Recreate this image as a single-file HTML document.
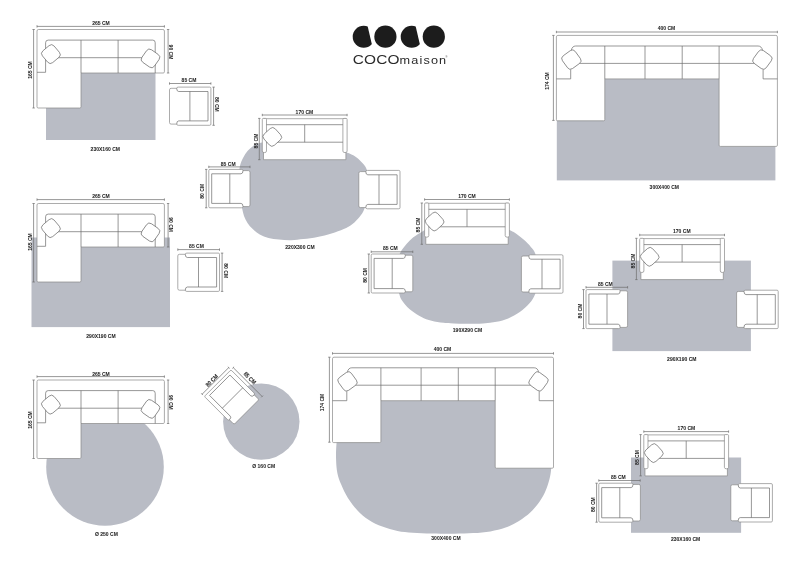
<!DOCTYPE html>
<html><head><meta charset="utf-8"><title>COCO maison</title>
<style>
html,body{margin:0;padding:0;background:#fff;}
svg{display:block;will-change:transform;filter:blur(0.45px)}
text{font-family:"Liberation Sans",sans-serif;}
</style></head>
<body>
<svg width="800" height="576" viewBox="0 0 800 576">
<rect width="800" height="576" fill="#fff"/>
<g stroke="#6c6c6c" stroke-width="0.7" stroke-linejoin="round" stroke-linecap="butt">
<rect x="46" y="72.5" width="109.5" height="67.5" fill="#b9bcc5" stroke="none"/>
<g transform="translate(37,29.5)"><path d="M1.5,0 H125.9 Q127.4,0 127.4,1.5 V42.3 Q127.4,43.5 126.2,43.5 H44 V77.3 Q44,78.5 42.8,78.5 H1.2 Q0,78.5 0,77.3 V1.5 Q0,0 1.5,0 Z" fill="#fff" stroke="#888"/><path d="M0,42.8 H8.6 V13.2 Q8.6,10.6 11.2,10.6 H115.80000000000001 Q118.2,10.6 118.2,13.2 V43.5" fill="none"/><path d="M44,10.6 V43.5 M81.1,10.6 V43.5 M20,28.2 H106" fill="none"/><rect x="-7.65" y="-7.65" width="15.3" height="15.3" rx="3.6" transform="translate(13.9,24.6) rotate(-40)" fill="#fff"/><rect x="-7.65" y="-7.65" width="15.3" height="15.3" rx="3.6" transform="translate(113.5,28.9) rotate(35)" fill="#fff"/></g>
<path d="M37,26.4 H164.4 M37,25.2 v2.4 M164.4,25.2 v2.4" fill="none"/>
<path d="M33.6,29.5 V108 M32.4,29.5 h2.4 M32.4,108 h2.4" fill="none"/>
<path d="M168.1,29.5 V73 M166.9,29.5 h2.4 M166.9,73 h2.4" fill="none"/>
<g transform="translate(210.9,87.1) scale(-1,1)"><path d="M0,1.2 Q0,0 1.2,0 H32.6 Q34.2,0 34.2,1.2 H39.8 Q41.4,1.2 41.4,2.8 V35.4 Q41.4,37.0 39.8,37.0 H34.2 Q34.2,38.2 32.6,38.2 H1.2 Q0,38.2 0,37.0 Z" fill="#fff" stroke="#888"/><path d="M34.2,1.2 Q34.2,4.4 32.2,4.4 H2.9 V33.800000000000004 H32.2 Q34.2,33.800000000000004 34.2,37.0 M21,4.4 V33.800000000000004" fill="none"/></g>
<path d="M169.5,83.5 H210.9 M169.5,82.3 v2.4 M210.9,82.3 v2.4" fill="none"/>
<path d="M213.6,87.1 V125.3 M212.4,87.1 h2.4 M212.4,125.3 h2.4" fill="none"/>
<rect x="31.5" y="237.5" width="138.5" height="89.6" fill="#b9bcc5" stroke="none"/>
<g transform="translate(37,203.5)"><path d="M1.5,0 H125.9 Q127.4,0 127.4,1.5 V42.3 Q127.4,43.5 126.2,43.5 H44 V77.3 Q44,78.5 42.8,78.5 H1.2 Q0,78.5 0,77.3 V1.5 Q0,0 1.5,0 Z" fill="#fff" stroke="#888"/><path d="M0,42.8 H8.6 V13.2 Q8.6,10.6 11.2,10.6 H115.80000000000001 Q118.2,10.6 118.2,13.2 V43.5" fill="none"/><path d="M44,10.6 V43.5 M81.1,10.6 V43.5 M20,28.2 H106" fill="none"/><rect x="-7.65" y="-7.65" width="15.3" height="15.3" rx="3.6" transform="translate(13.9,24.6) rotate(-40)" fill="#fff"/><rect x="-7.65" y="-7.65" width="15.3" height="15.3" rx="3.6" transform="translate(113.5,28.9) rotate(35)" fill="#fff"/></g>
<path d="M37,199.6 H164.4 M37,198.4 v2.4 M164.4,198.4 v2.4" fill="none"/>
<path d="M33.6,203.5 V282 M32.4,203.5 h2.4 M32.4,282 h2.4" fill="none"/>
<path d="M168.1,203.5 V247 M166.9,203.5 h2.4 M166.9,247 h2.4" fill="none"/>
<g transform="translate(219.5,253.1) scale(-1,1)"><path d="M0,1.2 Q0,0 1.2,0 H32.6 Q34.2,0 34.2,1.2 H40.1 Q41.7,1.2 41.7,2.8 V35.49999999999999 Q41.7,37.099999999999994 40.1,37.099999999999994 H34.2 Q34.2,38.3 32.6,38.3 H1.2 Q0,38.3 0,37.099999999999994 Z" fill="#fff" stroke="#888"/><path d="M34.2,1.2 Q34.2,4.4 32.2,4.4 H2.9 V33.9 H32.2 Q34.2,33.9 34.2,37.099999999999994 M21,4.4 V33.9" fill="none"/></g>
<path d="M177.8,249.6 H219.5 M177.8,248.4 v2.4 M219.5,248.4 v2.4" fill="none"/>
<path d="M222.1,253.1 V291.4 M220.9,253.1 h2.4 M220.9,291.4 h2.4" fill="none"/>
<circle cx="105" cy="467" r="58.8" fill="#b9bcc5" stroke="none"/>
<g transform="translate(37,380)"><path d="M1.5,0 H125.9 Q127.4,0 127.4,1.5 V42.3 Q127.4,43.5 126.2,43.5 H44 V77.3 Q44,78.5 42.8,78.5 H1.2 Q0,78.5 0,77.3 V1.5 Q0,0 1.5,0 Z" fill="#fff" stroke="#888"/><path d="M0,42.8 H8.6 V13.2 Q8.6,10.6 11.2,10.6 H115.80000000000001 Q118.2,10.6 118.2,13.2 V43.5" fill="none"/><path d="M44,10.6 V43.5 M81.1,10.6 V43.5 M20,28.2 H106" fill="none"/><rect x="-7.65" y="-7.65" width="15.3" height="15.3" rx="3.6" transform="translate(13.9,24.6) rotate(-40)" fill="#fff"/><rect x="-7.65" y="-7.65" width="15.3" height="15.3" rx="3.6" transform="translate(113.5,28.9) rotate(35)" fill="#fff"/></g>
<path d="M37,376.6 H164.4 M37,375.4 v2.4 M164.4,375.4 v2.4" fill="none"/>
<path d="M33.6,380 V458.5 M32.4,380 h2.4 M32.4,458.5 h2.4" fill="none"/>
<path d="M168.1,380 V423.5 M166.9,380 h2.4 M166.9,423.5 h2.4" fill="none"/>
<circle cx="261.3" cy="421.6" r="38.2" fill="#b9bcc5" stroke="none"/>
<g transform="translate(232.1,397.6) rotate(45) translate(-20.4,-18.8)"><path d="M0,1.2 Q0,0 1.2,0 H32.6 Q34.2,0 34.2,1.2 H39.199999999999996 Q40.8,1.2 40.8,2.8 V34.8 Q40.8,36.4 39.199999999999996,36.4 H34.2 Q34.2,37.6 32.6,37.6 H1.2 Q0,37.6 0,36.4 Z" fill="#fff" stroke="#888"/><path d="M34.2,1.2 Q34.2,4.4 32.2,4.4 H2.9 V33.2 H32.2 Q34.2,33.2 34.2,36.4 M21,4.4 V33.2" fill="none"/></g>
<g transform="translate(232.1,397.6) rotate(45)"><path d="M-20.4,-22.0 H20.4 M-20.4,-23.200000000000003 v2.4 M20.4,-23.200000000000003 v2.4 M-23.599999999999998,-18.8 V18.8 M-24.799999999999997,-18.8 h2.4 M-24.799999999999997,18.8 h2.4" fill="none"/></g>
<path d="M258.8,143.2 C255.12,144 254.78,145 252.9,146.3 C251.02,147.6 249.1,149.13 247.5,151 C245.9,152.87 244.55,155.03 243.3,157.5 C242.05,159.97 240.75,162.38 240,165.8 C239.25,169.22 239,173.63 238.8,178 C238.6,182.37 238.6,188 238.8,192 C239,196 239.43,199.17 240,202 C240.57,204.83 241.58,206.67 242.25,209 C242.92,211.33 243.12,213.67 244,216 C244.88,218.33 246.04,220.82 247.5,223 C248.96,225.18 250.71,227.2 252.75,229.1 C254.79,231 257.12,232.93 259.75,234.4 C262.38,235.87 265.29,237.03 268.5,237.9 C271.71,238.77 275.21,239.22 279,239.6 C282.79,239.97 287.17,240.23 291.25,240.15 C295.33,240.07 299.12,239.62 303.5,239.1 C307.88,238.57 312.83,237.93 317.5,237 C322.17,236.07 327.12,234.82 331.5,233.5 C335.88,232.18 340.25,230.7 343.75,229.1 C347.25,227.5 349.88,225.93 352.5,223.9 C355.12,221.87 357.6,219.23 359.5,216.9 C361.4,214.57 362.72,212.72 363.9,209.9 C365.08,207.08 365.97,203.32 366.6,200 C367.23,196.68 367.52,193.5 367.7,190 C367.88,186.5 367.83,182.33 367.7,179 C367.57,175.67 367.7,172.58 366.9,170 C366.1,167.42 364.73,165.68 362.9,163.5 C361.07,161.32 358.72,158.77 355.9,156.9 C353.08,155.03 350.32,153.78 346,152.3 C341.68,150.82 337.67,149.55 330,148 C322.33,146.45 309.17,144.08 300,143 C290.83,141.92 281.87,141.47 275,141.5 C268.13,141.53 262.48,142.4 258.8,143.2Z" fill="#b9bcc5" stroke="none"/>
<g transform="translate(262.3,118.4)"><path d="M1.2,0.3 H83.6 V41.3 H1.2 Z" fill="#fff" stroke="#888"/><path d="M0,1 Q0,0 1,0 H3.2 Q4.2,0 4.2,1 V32.7 Q4.2,34.2 2.1,34.2 Q0,34.2 0,32.7 Z" fill="#fff" stroke="#888"/><path d="M84.8,1 Q84.8,0 83.8,0 H81.6 Q80.6,0 80.6,1 V32.7 Q80.6,34.2 82.7,34.2 Q84.8,34.2 84.8,32.7 Z" fill="#fff" stroke="#888"/><path d="M4.2,6.3 H80.6 M4.2,23.8 H80.6 M42.4,6.3 V23.8" fill="none"/><rect x="-7.6" y="-7.6" width="15.2" height="15.2" rx="3.6" transform="translate(10,18.5) rotate(-42)" fill="#fff"/></g>
<path d="M262.3,115 H347.1 M262.3,113.8 v2.4 M347.1,113.8 v2.4" fill="none"/>
<path d="M259.3,118.4 V159.7 M258.1,118.4 h2.4 M258.1,159.7 h2.4" fill="none"/>
<g transform="translate(208.8,169.4)"><path d="M0,1.2 Q0,0 1.2,0 H32.6 Q34.2,0 34.2,1.2 H39.6 Q41.2,1.2 41.2,2.8 V35.599999999999994 Q41.2,37.199999999999996 39.6,37.199999999999996 H34.2 Q34.2,38.4 32.6,38.4 H1.2 Q0,38.4 0,37.199999999999996 Z" fill="#fff" stroke="#888"/><path d="M34.2,1.2 Q34.2,4.4 32.2,4.4 H2.9 V34.0 H32.2 Q34.2,34.0 34.2,37.199999999999996 M21,4.4 V34.0" fill="none"/></g>
<path d="M208.8,166.9 H250 M208.8,165.7 v2.4 M250,165.7 v2.4" fill="none"/>
<path d="M206.2,169.4 V207.8 M205,169.4 h2.4 M205,207.8 h2.4" fill="none"/>
<g transform="translate(400,170.4) scale(-1,1)"><path d="M0,1.2 Q0,0 1.2,0 H32.6 Q34.2,0 34.2,1.2 H39.6 Q41.2,1.2 41.2,2.8 V35.599999999999994 Q41.2,37.199999999999996 39.6,37.199999999999996 H34.2 Q34.2,38.4 32.6,38.4 H1.2 Q0,38.4 0,37.199999999999996 Z" fill="#fff" stroke="#888"/><path d="M34.2,1.2 Q34.2,4.4 32.2,4.4 H2.9 V34.0 H32.2 Q34.2,34.0 34.2,37.199999999999996 M21,4.4 V34.0" fill="none"/></g>
<path d="M421,232.4 C416.55,234.87 415.72,235.35 413.3,237.3 C410.88,239.25 408.63,241.6 406.5,244.1 C404.37,246.6 402.02,249.32 400.5,252.3 C398.98,255.28 398.07,258.58 397.4,262 C396.73,265.42 396.55,269.3 396.5,272.8 C396.45,276.3 396.68,279.63 397.1,283 C397.52,286.37 398.18,290.07 399,293 C399.82,295.93 400.27,297.92 402,300.6 C403.73,303.28 406.55,306.57 409.4,309.1 C412.25,311.63 415.87,313.97 419.1,315.8 C422.33,317.63 425.25,318.97 428.8,320.1 C432.35,321.23 436.22,322.02 440.4,322.6 C444.58,323.18 449.38,323.4 453.9,323.6 C458.42,323.8 462.65,323.83 467.5,323.8 C472.35,323.77 478.15,323.75 483,323.4 C487.85,323.05 492.4,322.53 496.6,321.7 C500.8,320.87 504.33,320.02 508.2,318.4 C512.07,316.78 516.25,314.52 519.8,312 C523.35,309.48 526.97,306.22 529.5,303.3 C532.03,300.38 533.75,297.72 535,294.5 C536.25,291.28 536.62,287.58 537,284 C537.38,280.42 537.33,276.5 537.3,273 C537.27,269.5 537.13,266.2 536.8,263 C536.47,259.8 536.07,256.22 535.3,253.8 C534.53,251.38 533.82,250.6 532.2,248.5 C530.58,246.4 528.32,243.72 525.6,241.2 C522.88,238.68 518.8,235.35 515.9,233.4 C513,231.45 512.02,231.32 508.2,229.5 C504.38,227.68 499.93,224.17 493,222.5 C486.07,220.83 475.43,219.5 466.6,219.5 C457.77,219.5 447.6,220.35 440,222.5 C432.4,224.65 425.45,229.93 421,232.4Z" fill="#b9bcc5" stroke="none"/>
<g transform="translate(424.6,203)"><path d="M1.2,0.3 H83.6 V41.3 H1.2 Z" fill="#fff" stroke="#888"/><path d="M0,1 Q0,0 1,0 H3.2 Q4.2,0 4.2,1 V32.7 Q4.2,34.2 2.1,34.2 Q0,34.2 0,32.7 Z" fill="#fff" stroke="#888"/><path d="M84.8,1 Q84.8,0 83.8,0 H81.6 Q80.6,0 80.6,1 V32.7 Q80.6,34.2 82.7,34.2 Q84.8,34.2 84.8,32.7 Z" fill="#fff" stroke="#888"/><path d="M4.2,6.3 H80.6 M4.2,23.8 H80.6 M42.4,6.3 V23.8" fill="none"/><rect x="-7.6" y="-7.6" width="15.2" height="15.2" rx="3.6" transform="translate(10,18.5) rotate(-42)" fill="#fff"/></g>
<path d="M424.6,199.5 H509.4 M424.6,198.3 v2.4 M509.4,198.3 v2.4" fill="none"/>
<path d="M421.8,203 V244.3 M420.6,203 h2.4 M420.6,244.3 h2.4" fill="none"/>
<g transform="translate(371.2,254)"><path d="M0,1.2 Q0,0 1.2,0 H32.6 Q34.2,0 34.2,1.2 H40.0 Q41.6,1.2 41.6,2.8 V36.199999999999996 Q41.6,37.8 40.0,37.8 H34.2 Q34.2,39 32.6,39 H1.2 Q0,39 0,37.8 Z" fill="#fff" stroke="#888"/><path d="M34.2,1.2 Q34.2,4.4 32.2,4.4 H2.9 V34.6 H32.2 Q34.2,34.6 34.2,37.8 M21,4.4 V34.6" fill="none"/></g>
<path d="M371.2,251.8 H412.8 M371.2,250.6 v2.4 M412.8,250.6 v2.4" fill="none"/>
<path d="M368.8,254 V293 M367.6,254 h2.4 M367.6,293 h2.4" fill="none"/>
<g transform="translate(563,254.8) scale(-1,1)"><path d="M0,1.2 Q0,0 1.2,0 H32.6 Q34.2,0 34.2,1.2 H40.0 Q41.6,1.2 41.6,2.8 V35.599999999999994 Q41.6,37.199999999999996 40.0,37.199999999999996 H34.2 Q34.2,38.4 32.6,38.4 H1.2 Q0,38.4 0,37.199999999999996 Z" fill="#fff" stroke="#888"/><path d="M34.2,1.2 Q34.2,4.4 32.2,4.4 H2.9 V34.0 H32.2 Q34.2,34.0 34.2,37.199999999999996 M21,4.4 V34.0" fill="none"/></g>
<rect x="612.4" y="260.6" width="138.5" height="90.5" fill="#b9bcc5" stroke="none"/>
<g transform="translate(639.7,238.3)"><path d="M1.2,0.3 H83.6 V41.3 H1.2 Z" fill="#fff" stroke="#888"/><path d="M0,1 Q0,0 1,0 H3.2 Q4.2,0 4.2,1 V32.7 Q4.2,34.2 2.1,34.2 Q0,34.2 0,32.7 Z" fill="#fff" stroke="#888"/><path d="M84.8,1 Q84.8,0 83.8,0 H81.6 Q80.6,0 80.6,1 V32.7 Q80.6,34.2 82.7,34.2 Q84.8,34.2 84.8,32.7 Z" fill="#fff" stroke="#888"/><path d="M4.2,6.3 H80.6 M4.2,23.8 H80.6 M42.4,6.3 V23.8" fill="none"/><rect x="-7.6" y="-7.6" width="15.2" height="15.2" rx="3.6" transform="translate(10,18.5) rotate(-42)" fill="#fff"/></g>
<path d="M639.7,235 H724.5 M639.7,233.8 v2.4 M724.5,233.8 v2.4" fill="none"/>
<path d="M636.4,238.3 V279.6 M635.2,238.3 h2.4 M635.2,279.6 h2.4" fill="none"/>
<g transform="translate(586,289.6)"><path d="M0,1.2 Q0,0 1.2,0 H32.6 Q34.2,0 34.2,1.2 H40.0 Q41.6,1.2 41.6,2.8 V36.199999999999996 Q41.6,37.8 40.0,37.8 H34.2 Q34.2,39 32.6,39 H1.2 Q0,39 0,37.8 Z" fill="#fff" stroke="#888"/><path d="M34.2,1.2 Q34.2,4.4 32.2,4.4 H2.9 V34.6 H32.2 Q34.2,34.6 34.2,37.8 M21,4.4 V34.6" fill="none"/></g>
<path d="M586,287.3 H627.6 M586,286.1 v2.4 M627.6,286.1 v2.4" fill="none"/>
<path d="M583.5,289.6 V328.6 M582.3,289.6 h2.4 M582.3,328.6 h2.4" fill="none"/>
<g transform="translate(778.2,290.2) scale(-1,1)"><path d="M0,1.2 Q0,0 1.2,0 H32.6 Q34.2,0 34.2,1.2 H40.0 Q41.6,1.2 41.6,2.8 V35.599999999999994 Q41.6,37.199999999999996 40.0,37.199999999999996 H34.2 Q34.2,38.4 32.6,38.4 H1.2 Q0,38.4 0,37.199999999999996 Z" fill="#fff" stroke="#888"/><path d="M34.2,1.2 Q34.2,4.4 32.2,4.4 H2.9 V34.0 H32.2 Q34.2,34.0 34.2,37.199999999999996 M21,4.4 V34.0" fill="none"/></g>
<rect x="631" y="457.5" width="110.1" height="75.3" fill="#b9bcc5" stroke="none"/>
<g transform="translate(643.8,434.6)"><path d="M1.2,0.3 H83.6 V41.3 H1.2 Z" fill="#fff" stroke="#888"/><path d="M0,1 Q0,0 1,0 H3.2 Q4.2,0 4.2,1 V32.7 Q4.2,34.2 2.1,34.2 Q0,34.2 0,32.7 Z" fill="#fff" stroke="#888"/><path d="M84.8,1 Q84.8,0 83.8,0 H81.6 Q80.6,0 80.6,1 V32.7 Q80.6,34.2 82.7,34.2 Q84.8,34.2 84.8,32.7 Z" fill="#fff" stroke="#888"/><path d="M4.2,6.3 H80.6 M4.2,23.8 H80.6 M42.4,6.3 V23.8" fill="none"/><rect x="-7.6" y="-7.6" width="15.2" height="15.2" rx="3.6" transform="translate(10,18.5) rotate(-42)" fill="#fff"/></g>
<path d="M643.8,431.6 H728.6 M643.8,430.4 v2.4 M728.6,430.4 v2.4" fill="none"/>
<path d="M640.6,434.6 V475.9 M639.4,434.6 h2.4 M639.4,475.9 h2.4" fill="none"/>
<g transform="translate(598.8,483.2)"><path d="M0,1.2 Q0,0 1.2,0 H32.6 Q34.2,0 34.2,1.2 H40.0 Q41.6,1.2 41.6,2.8 V36.199999999999996 Q41.6,37.8 40.0,37.8 H34.2 Q34.2,39 32.6,39 H1.2 Q0,39 0,37.8 Z" fill="#fff" stroke="#888"/><path d="M34.2,1.2 Q34.2,4.4 32.2,4.4 H2.9 V34.6 H32.2 Q34.2,34.6 34.2,37.8 M21,4.4 V34.6" fill="none"/></g>
<path d="M598.8,480.5 H640.2 M598.8,479.3 v2.4 M640.2,479.3 v2.4" fill="none"/>
<path d="M596.6,483.2 V522.2 M595.4,483.2 h2.4 M595.4,522.2 h2.4" fill="none"/>
<g transform="translate(772.4,483.6) scale(-1,1)"><path d="M0,1.2 Q0,0 1.2,0 H32.6 Q34.2,0 34.2,1.2 H40.0 Q41.6,1.2 41.6,2.8 V35.599999999999994 Q41.6,37.199999999999996 40.0,37.199999999999996 H34.2 Q34.2,38.4 32.6,38.4 H1.2 Q0,38.4 0,37.199999999999996 Z" fill="#fff" stroke="#888"/><path d="M34.2,1.2 Q34.2,4.4 32.2,4.4 H2.9 V34.0 H32.2 Q34.2,34.0 34.2,37.199999999999996 M21,4.4 V34.0" fill="none"/></g>
<rect x="556.8" y="79" width="218.6" height="101.4" fill="#b9bcc5" stroke="none"/>
<g transform="translate(556.4,35.4)"><path d="M1.5,0 H219.5 Q221,0 221,1.5 V109.8 Q221,111 219.8,111 H163.89999999999998 Q162.7,111 162.7,109.8 V43.5 H48.4 V84.2 Q48.4,85.4 47.199999999999996,85.4 H1.2 Q0,85.4 0,84.2 V1.5 Q0,0 1.5,0 Z" fill="#fff" stroke="#888"/><path d="M0,43.5 H14.3 V34 M221,43.5 H206.7 V34" fill="none"/><path d="M14.8,15 Q15.8,10.6 19.3,10.6 H201.7 Q205.2,10.6 206.2,15" fill="none"/><path d="M48.4,10.6 V43.5 M88.6,10.6 V43.5 M125.8,10.6 V43.5 M162.7,10.6 V43.5 M22,28 H199" fill="none"/><rect x="-7.9" y="-7.9" width="15.8" height="15.8" rx="3.6" transform="translate(15,24.2) rotate(-36)" fill="#fff"/><rect x="-7.9" y="-7.9" width="15.8" height="15.8" rx="3.6" transform="translate(206,24.2) rotate(36)" fill="#fff"/></g>
<path d="M556.4,32 H777.4 M556.4,30.8 v2.4 M777.4,30.8 v2.4" fill="none"/>
<path d="M553.4,35.4 V120.4 M552.2,35.4 h2.4 M552.2,120.4 h2.4" fill="none"/>
<path d="M345,400 C337.13,407.17 340.23,417.5 338.8,425 C337.37,432.5 336.85,439.17 336.4,445 C335.95,450.83 335.93,455.3 336.1,460 C336.27,464.7 336.55,469.1 337.4,473.2 C338.25,477.3 339.45,480.47 341.2,484.6 C342.95,488.73 345.18,493.7 347.9,498 C350.62,502.3 354,506.73 357.5,510.4 C361,514.07 364.77,517.3 368.9,520 C373.03,522.7 377.53,524.77 382.3,526.6 C387.07,528.43 392.42,529.98 397.5,531 C402.58,532.02 407.07,532.28 412.8,532.7 C418.53,533.12 424.95,533.33 431.9,533.5 C438.85,533.67 447.62,533.77 454.5,533.7 C461.38,533.63 467.22,533.48 473.2,533.1 C479.18,532.72 485,532.32 490.4,531.4 C495.8,530.48 500.83,529.35 505.6,527.6 C510.37,525.85 514.85,523.45 519,520.9 C523.15,518.35 527,515.63 530.5,512.3 C534,508.97 537.47,504.55 540,500.9 C542.53,497.25 544.12,494.07 545.7,490.4 C547.28,486.73 548.6,482.4 549.5,478.9 C550.4,475.4 550.78,472.88 551.1,469.4 C551.42,465.92 551.48,462.9 551.4,458 C551.32,453.1 551.25,446.33 550.6,440 C549.95,433.67 548.93,426.67 547.5,420 C546.07,413.33 549.92,406.33 542,400 C534.08,393.67 516.5,385.67 500,382 C483.5,378.33 462,378 443,378 C424,378 402.33,378.33 386,382 C369.67,385.67 352.87,392.83 345,400Z" fill="#b9bcc5" stroke="none"/>
<g transform="translate(332.5,357.2)"><path d="M1.5,0 H219.5 Q221,0 221,1.5 V109.8 Q221,111 219.8,111 H163.89999999999998 Q162.7,111 162.7,109.8 V43.5 H48.4 V84.2 Q48.4,85.4 47.199999999999996,85.4 H1.2 Q0,85.4 0,84.2 V1.5 Q0,0 1.5,0 Z" fill="#fff" stroke="#888"/><path d="M0,43.5 H14.3 V34 M221,43.5 H206.7 V34" fill="none"/><path d="M14.8,15 Q15.8,10.6 19.3,10.6 H201.7 Q205.2,10.6 206.2,15" fill="none"/><path d="M48.4,10.6 V43.5 M88.6,10.6 V43.5 M125.8,10.6 V43.5 M162.7,10.6 V43.5 M22,28 H199" fill="none"/><rect x="-7.9" y="-7.9" width="15.8" height="15.8" rx="3.6" transform="translate(15,24.2) rotate(-36)" fill="#fff"/><rect x="-7.9" y="-7.9" width="15.8" height="15.8" rx="3.6" transform="translate(206,24.2) rotate(36)" fill="#fff"/></g>
<path d="M332.5,353.4 H553.5 M332.5,352.2 v2.4 M553.5,352.2 v2.4" fill="none"/>
<path d="M329.4,357.2 V442.2 M328.2,357.2 h2.4 M328.2,442.2 h2.4" fill="none"/>
</g>
<g fill="#262626" font-weight="700" text-anchor="middle" stroke="#262626" stroke-width="0.05">
<text transform="translate(101,22.6) rotate(0) scale(0.84,1)" y="2.16" font-size="6">265 CM</text>
<text transform="translate(29.6,70) rotate(-90) scale(0.84,1)" y="2.16" font-size="6">165 CM</text>
<text transform="translate(171.5,52) rotate(90) scale(0.84,1)" y="2.16" font-size="6">90 CM</text>
<text transform="translate(105.3,148.5) rotate(0) scale(0.84,1)" y="2.16" font-size="6">230X160 CM</text>
<text transform="translate(189,80) rotate(0) scale(0.84,1)" y="2.16" font-size="6">85 CM</text>
<text transform="translate(217.5,104.3) rotate(90) scale(0.84,1)" y="2.16" font-size="6">80 CM</text>
<text transform="translate(101,195.8) rotate(0) scale(0.84,1)" y="2.16" font-size="6">265 CM</text>
<text transform="translate(29.6,242) rotate(-90) scale(0.84,1)" y="2.16" font-size="6">165 CM</text>
<text transform="translate(171.3,224.6) rotate(90) scale(0.84,1)" y="2.16" font-size="6">90 CM</text>
<text transform="translate(101,335.8) rotate(0) scale(0.84,1)" y="2.16" font-size="6">290X190 CM</text>
<text transform="translate(196.5,245.8) rotate(0) scale(0.84,1)" y="2.16" font-size="6">85 CM</text>
<text transform="translate(225.7,270.7) rotate(90) scale(0.84,1)" y="2.16" font-size="6">80 CM</text>
<text transform="translate(101,373.8) rotate(0) scale(0.84,1)" y="2.16" font-size="6">265 CM</text>
<text transform="translate(29.6,420) rotate(-90) scale(0.84,1)" y="2.16" font-size="6">165 CM</text>
<text transform="translate(171.3,402.4) rotate(90) scale(0.84,1)" y="2.16" font-size="6">90 CM</text>
<text transform="translate(106.4,533.9) rotate(0) scale(0.84,1)" y="2.16" font-size="6">Ø 250 CM</text>
<text transform="translate(249.9,378) rotate(45) scale(0.84,1)" y="2.16" font-size="6">85 CM</text>
<text transform="translate(211.7,380.4) rotate(-45) scale(0.84,1)" y="2.16" font-size="6">80 CM</text>
<text transform="translate(263.7,465.7) rotate(0) scale(0.84,1)" y="2.16" font-size="6">Ø 160 CM</text>
<text transform="translate(304.4,111.4) rotate(0) scale(0.84,1)" y="2.16" font-size="6">170 CM</text>
<text transform="translate(255.6,141) rotate(-90) scale(0.84,1)" y="2.16" font-size="6">85 CM</text>
<text transform="translate(228.2,163.6) rotate(0) scale(0.84,1)" y="2.16" font-size="6">85 CM</text>
<text transform="translate(202.3,191.3) rotate(-90) scale(0.84,1)" y="2.16" font-size="6">80 CM</text>
<text transform="translate(300,247.3) rotate(0) scale(0.84,1)" y="2.16" font-size="6">220X300 CM</text>
<text transform="translate(467,195.6) rotate(0) scale(0.84,1)" y="2.16" font-size="6">170 CM</text>
<text transform="translate(418,225) rotate(-90) scale(0.84,1)" y="2.16" font-size="6">85 CM</text>
<text transform="translate(390.4,248.2) rotate(0) scale(0.84,1)" y="2.16" font-size="6">85 CM</text>
<text transform="translate(365,275.4) rotate(-90) scale(0.84,1)" y="2.16" font-size="6">80 CM</text>
<text transform="translate(467.5,330) rotate(0) scale(0.84,1)" y="2.16" font-size="6">190X290 CM</text>
<text transform="translate(681.8,230.8) rotate(0) scale(0.84,1)" y="2.16" font-size="6">170 CM</text>
<text transform="translate(632.6,261) rotate(-90) scale(0.84,1)" y="2.16" font-size="6">85 CM</text>
<text transform="translate(605.3,283.9) rotate(0) scale(0.84,1)" y="2.16" font-size="6">85 CM</text>
<text transform="translate(580.1,311) rotate(-90) scale(0.84,1)" y="2.16" font-size="6">80 CM</text>
<text transform="translate(681.8,358.5) rotate(0) scale(0.84,1)" y="2.16" font-size="6">290X190 CM</text>
<text transform="translate(686.4,427.9) rotate(0) scale(0.84,1)" y="2.16" font-size="6">170 CM</text>
<text transform="translate(636.7,457.5) rotate(-90) scale(0.84,1)" y="2.16" font-size="6">85 CM</text>
<text transform="translate(618.3,477) rotate(0) scale(0.84,1)" y="2.16" font-size="6">85 CM</text>
<text transform="translate(592.5,504.6) rotate(-90) scale(0.84,1)" y="2.16" font-size="6">80 CM</text>
<text transform="translate(685.6,539.2) rotate(0) scale(0.84,1)" y="2.16" font-size="6">230X160 CM</text>
<text transform="translate(666.5,27.8) rotate(0) scale(0.84,1)" y="2.16" font-size="6">400 CM</text>
<text transform="translate(546.4,81) rotate(-90) scale(0.84,1)" y="2.16" font-size="6">174 CM</text>
<text transform="translate(664.3,187.2) rotate(0) scale(0.84,1)" y="2.16" font-size="6">300X400 CM</text>
<text transform="translate(442.5,349) rotate(0) scale(0.84,1)" y="2.16" font-size="6">400 CM</text>
<text transform="translate(322.3,402.5) rotate(-90) scale(0.84,1)" y="2.16" font-size="6">174 CM</text>
<text transform="translate(446,538.1) rotate(0) scale(0.84,1)" y="2.16" font-size="6">300X400 CM</text>
</g>
<g stroke="none">
<clipPath id="c363"><polygon points="351.7,24.7 367.3,24.7 372.9,48.7 351.7,48.7"/></clipPath><circle cx="363.7" cy="36.7" r="11" fill="#1c1c1c" clip-path="url(#c363)"/>
<circle cx="385.4" cy="36.7" r="11.1" fill="#1c1c1c"/>
<clipPath id="c411"><polygon points="399.7,24.7 415.3,24.7 420.9,48.7 399.7,48.7"/></clipPath><circle cx="411.7" cy="36.7" r="11" fill="#1c1c1c" clip-path="url(#c411)"/>
<circle cx="433.8" cy="36.7" r="11.1" fill="#1c1c1c"/>
<text transform="translate(352.8,64.3) scale(1.225,1)" font-size="12.6" letter-spacing="0.15" fill="#2a2a2a" font-weight="400" text-anchor="start">COCO</text>
<text transform="translate(399.5,64.3) scale(1.21,1)" font-size="10.5" letter-spacing="0.95" fill="#2a2a2a" font-weight="400" text-anchor="start">maison</text>
<text x="445.6" y="58" font-size="2.6" fill="#2a2a2a" font-weight="400" text-anchor="start">®</text>
</g>
</svg>
</body></html>
